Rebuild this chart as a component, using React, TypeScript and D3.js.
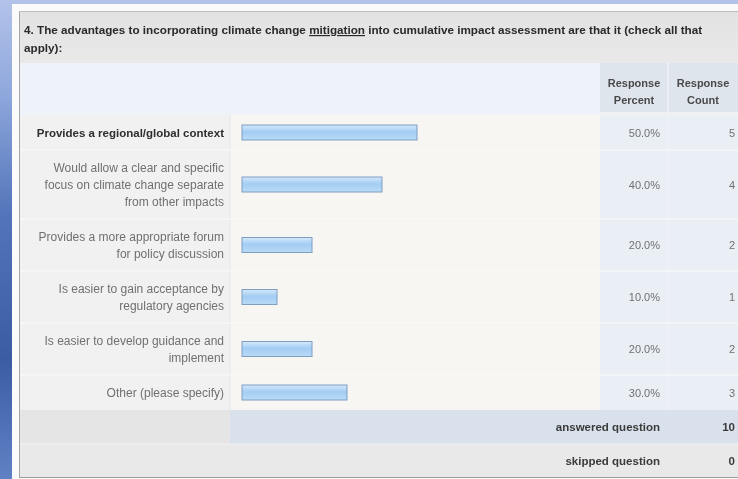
import React from "react";
import * as d3 from "d3";

const titleStart = "4. The advantages to incorporating climate change ";
const titleUnderlined = "mitigation";
const titleEnd = " into cumulative impact assessment are that it (check all that";
const titleLine2 = "apply):";

const answerLabels: string[][] = [
  ["Provides a regional/global context"],
  ["Would allow a clear and specific", "focus on climate change separate", "from other impacts"],
  ["Provides a more appropriate forum", "for policy discussion"],
  ["Is easier to gain acceptance by", "regulatory agencies"],
  ["Is easier to develop guidance and", "implement"],
  ["Other (please specify)"],
];
const responsePercent = [50.0, 40.0, 20.0, 10.0, 20.0, 30.0];
const responseCount = [5, 4, 2, 1, 2, 3];
const answeredQuestion = 10;
const skippedQuestion = 0;
const headerPercent = ["Response", "Percent"];
const headerCount = ["Response", "Count"];

const W = 738;
const H = 479;
const FONT = "'Liberation Sans', Arial, sans-serif";

export default function App() {
  const panelX = 19;
  const panelTop = 11;
  const titleBottom = 63;
  const headerBottom = 115;
  const colLabelEnd = 230;
  const colBarEnd = 600;
  const colPctEnd = 668;
  const lineH = 17;

  const x = d3.scaleLinear().domain([0, 100]).range([242, 592]);
  const maxPct = d3.max(responsePercent) as number;

  let acc = headerBottom;
  const rows = answerLabels.map((lines, i) => {
    const h = 18 + lineH * lines.length;
    const r = { y0: acc, h, c: acc + h / 2, lines, i };
    acc += h;
    return r;
  });
  const answeredTop = acc;
  const answeredBottom = answeredTop + 34;
  const skippedBottom = 477;

  return (
    <svg
      width={W}
      height={H}
      viewBox={`0 0 ${W} ${H}`}
      style={{ position: "absolute", left: 0, top: 0, display: "block" }}
      fontFamily={FONT}
    >
      <defs>
        <linearGradient id="bgGrad" x1="0" y1="0" x2="0" y2="1">
          <stop offset="0" stopColor="#b3c3ea" />
          <stop offset="0.2" stopColor="#8ea7dc" />
          <stop offset="0.45" stopColor="#5274b9" />
          <stop offset="0.75" stopColor="#3b5ca3" />
          <stop offset="1" stopColor="#5f82c5" />
        </linearGradient>
        <linearGradient id="barGrad" x1="0" y1="0" x2="0" y2="1">
          <stop offset="0" stopColor="#d6e9fb" />
          <stop offset="0.45" stopColor="#a3cdf3" />
          <stop offset="1" stopColor="#b9daf6" />
        </linearGradient>
        <linearGradient id="titleGrad" x1="0" y1="0" x2="0" y2="1">
          <stop offset="0" stopColor="#e2e2e2" />
          <stop offset="1" stopColor="#e9e9e9" />
        </linearGradient>
        <filter id="soft" x="0" y="0" width="1" height="1">
          <feGaussianBlur stdDeviation="0.45" />
        </filter>
      </defs>

      <rect x={0} y={0} width={W} height={H} fill="url(#bgGrad)" />
      <rect x={12} y={4} width={W - 12} height={H - 4} fill="#fbfbfb" />

      <g filter="url(#soft)">
        <rect x={panelX} y={panelTop} width={W - panelX} height={skippedBottom - panelTop} fill="#f1f1f1" />
        <rect x={panelX} y={panelTop} width={W - panelX} height={titleBottom - panelTop} fill="url(#titleGrad)" />
        <rect x={panelX} y={titleBottom} width={colBarEnd - panelX} height={headerBottom - titleBottom} fill="#eef3f9" />
        <rect x={colBarEnd} y={titleBottom} width={W - colBarEnd} height={headerBottom - titleBottom - 3} fill="#dee5ed" />
        <line x1={colPctEnd} x2={colPctEnd} y1={titleBottom} y2={headerBottom - 3} stroke="#eef2f6" strokeWidth={1.5} />

        <rect x={panelX} y={headerBottom} width={colLabelEnd - panelX} height={answeredTop - headerBottom} fill="#f1f1f1" />
        <rect x={colLabelEnd} y={headerBottom} width={colBarEnd - colLabelEnd} height={answeredTop - headerBottom} fill="#f7f6f2" />
        <rect x={colBarEnd} y={headerBottom} width={W - colBarEnd} height={answeredTop - headerBottom} fill="#eaeff6" />
        <line x1={colPctEnd} x2={colPctEnd} y1={headerBottom} y2={answeredTop} stroke="#f0f3f8" strokeWidth={1} />
        <line x1={colLabelEnd} x2={colLabelEnd} y1={headerBottom} y2={skippedBottom} stroke="#e2e4e8" strokeWidth={1} />

        {rows.slice(1).map((r) => (
          <line key={`sep${r.i}`} x1={panelX} x2={W} y1={r.y0} y2={r.y0} stroke="#fafafa" strokeWidth={1} />
        ))}

        <rect x={panelX} y={answeredTop} width={colLabelEnd - panelX} height={answeredBottom - answeredTop} fill="#e5e5e5" />
        <rect x={colLabelEnd} y={answeredTop} width={W - colLabelEnd} height={answeredBottom - answeredTop} fill="#d9e2ec" />
        <rect x={panelX} y={answeredBottom} width={W - panelX} height={skippedBottom - answeredBottom} fill="#e9e9e9" />
        <line x1={panelX} x2={W} y1={answeredBottom} y2={answeredBottom} stroke="#f3f3f3" strokeWidth={1} />

        <line x1={panelX + 0.5} x2={panelX + 0.5} y1={panelTop} y2={skippedBottom} stroke="#a6a6a6" strokeWidth={1} />
        <line x1={panelX} x2={W} y1={panelTop + 0.5} y2={panelTop + 0.5} stroke="#bdbdbd" strokeWidth={1} />
        <line x1={panelX} x2={W} y1={skippedBottom + 0.5} y2={skippedBottom + 0.5} stroke="#9c9c9c" strokeWidth={1} />

        <text x={24} y={34} fontSize={11.7} fontWeight="bold" fill="#2a2a2a">
          {titleStart}
          <tspan textDecoration="underline">{titleUnderlined}</tspan>
          {titleEnd}
        </text>
        <text x={24} y={52} fontSize={11.7} fontWeight="bold" fill="#2a2a2a">
          {titleLine2}
        </text>

        {headerPercent.map((t, i) => (
          <text key={`hp${i}`} x={634} y={87 + i * 17} fontSize={11} fontWeight="bold" fill="#4a4a4a" textAnchor="middle">
            {t}
          </text>
        ))}
        {headerCount.map((t, i) => (
          <text key={`hc${i}`} x={703} y={87 + i * 17} fontSize={11} fontWeight="bold" fill="#4a4a4a" textAnchor="middle">
            {t}
          </text>
        ))}

        {rows.map((r) => {
          const pct = responsePercent[r.i];
          const isMax = pct === maxPct;
          const n = r.lines.length;
          return (
            <g key={`row${r.i}`}>
              {r.lines.map((ln, k) => (
                <text
                  key={k}
                  x={224}
                  y={r.c + (k - (n - 1) / 2) * lineH + 4}
                  fontSize={isMax ? 11.5 : 12}
                  fontWeight={isMax ? "bold" : "normal"}
                  fill={isMax ? "#2e2e2e" : "#707070"}
                  textAnchor="end"
                >
                  {ln}
                </text>
              ))}
              <rect
                x={x(0)}
                y={r.c - 7.5}
                width={x(pct) - x(0)}
                height={15}
                fill="url(#barGrad)"
                stroke="#7f9ec2"
                strokeWidth={1}
              />
              <text x={660} y={r.c + 4} fontSize={11} fill="#707070" textAnchor="end">
                {d3.format(".1f")(pct) + "%"}
              </text>
              <text x={735} y={r.c + 4} fontSize={11} fill="#707070" textAnchor="end">
                {responseCount[r.i]}
              </text>
            </g>
          );
        })}

        <text x={660} y={(answeredTop + answeredBottom) / 2 + 4} fontSize={11.5} fontWeight="bold" fill="#3a3a3a" textAnchor="end">
          answered question
        </text>
        <text x={735} y={(answeredTop + answeredBottom) / 2 + 4} fontSize={11.5} fontWeight="bold" fill="#3a3a3a" textAnchor="end">
          {answeredQuestion}
        </text>
        <text x={660} y={(answeredBottom + skippedBottom) / 2 + 4} fontSize={11.5} fontWeight="bold" fill="#3a3a3a" textAnchor="end">
          skipped question
        </text>
        <text x={735} y={(answeredBottom + skippedBottom) / 2 + 4} fontSize={11.5} fontWeight="bold" fill="#3a3a3a" textAnchor="end">
          {skippedQuestion}
        </text>
      </g>
    </svg>
  );
}
